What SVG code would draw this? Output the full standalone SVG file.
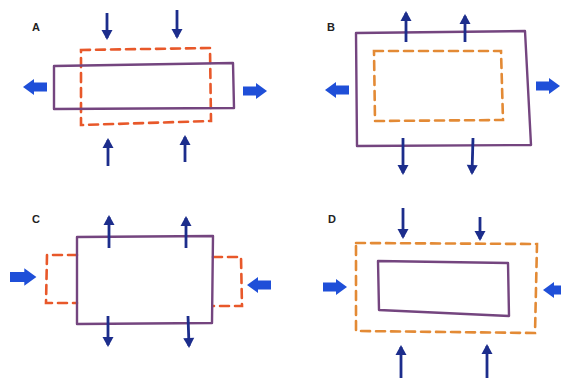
<svg xmlns="http://www.w3.org/2000/svg" width="561" height="378" viewBox="0 0 561 378">
  <style>
    .label { font-family: "Liberation Sans", Arial, sans-serif; font-size: 11px; font-weight: bold; fill: #222; }
    .body { fill: none; stroke: #74457f; stroke-width: 2.4; stroke-linejoin: round; }
    .outline { fill: none; stroke: #e8582a; stroke-width: 2.6; stroke-dasharray: 9 6; stroke-linecap: round; }
    .outline.amber { stroke: #e38a35; }
    .force { stroke: #1c2d8c; stroke-width: 2.8; fill: none; marker-end: url(#head); }
    .push { fill: #1f4fd8; }
  </style>
  <defs>
    <marker id="head" markerUnits="userSpaceOnUse" markerWidth="12" markerHeight="12" viewBox="0 -6 10 12" refX="8" refY="0" orient="auto">
      <path d="M0,-5.5 L10,0 L0,5.5 Z" fill="#1c2d8c"/>
    </marker>
    <!-- block arrow pointing right, tip at x=24 -->
    <path id="fat" d="M0,-4.5 L13,-4.5 L13,-8 L24,0 L13,8 L13,4.5 L0,4.5 Z"/>
  </defs>
  <rect width="561" height="378" fill="#fff"/>

  <!-- panel A: stretched sideways, squeezed vertically -->
  <g id="panel-a">
    <text class="label" x="32" y="31">A</text>
    <path class="outline" d="M81,50 L210,48 L211,121 L81,125 Z"/>
    <path class="body" d="M54,66 L233,63 L234,108 L54,109 Z"/>
  </g>

  <!-- panel B: expanded in every direction -->
  <g id="panel-b">
    <text class="label" x="327" y="31">B</text>
    <path class="outline amber" d="M374,51 L501,51 L503,120 L375,121 Z"/>
    <path class="body" d="M356,33 L525,31 L531,145 L357,146 Z"/>
  </g>

  <!-- panel C: squeezed sideways, stretched vertically -->
  <g id="panel-c">
    <text class="label" x="32" y="223">C</text>
    <path class="outline" d="M77,255 L47,255 L46,303 L77,303"/>
    <path class="outline" d="M213,257 L241,257 L242,306 L213,306"/>
    <path class="body" d="M77,237 L213,236 L212,323 L77,324 Z"/>
  </g>

  <!-- panel D: compressed from every side -->
  <g id="panel-d">
    <text class="label" x="328" y="223">D</text>
    <path class="outline amber" d="M356,243 L537,244 L535,333 L356,331 Z"/>
    <path class="body" d="M378,261 L508,263 L509,316 L379,310 Z"/>
  </g>

  <g id="connectors">
    <!-- A -->
    <line class="force" x1="107" y1="13" x2="107" y2="38"/>
    <line class="force" x1="177" y1="10" x2="177" y2="37"/>
    <line class="force" x1="108" y1="166" x2="108" y2="140"/>
    <line class="force" x1="185" y1="162" x2="185" y2="137"/>
    <use href="#fat" class="push" transform="translate(47,87) scale(-1,1)"/>
    <use href="#fat" class="push" transform="translate(243,91)"/>
    <!-- B -->
    <line class="force" x1="406" y1="42" x2="406" y2="13"/>
    <line class="force" x1="465" y1="42" x2="465" y2="16"/>
    <line class="force" x1="403" y1="138" x2="403" y2="173"/>
    <line class="force" x1="473" y1="138" x2="472" y2="173"/>
    <use href="#fat" class="push" transform="translate(349,90) scale(-1,1)"/>
    <use href="#fat" class="push" transform="translate(536,86)"/>
    <!-- C -->
    <line class="force" x1="109" y1="248" x2="109" y2="217"/>
    <line class="force" x1="186" y1="248" x2="186" y2="218"/>
    <line class="force" x1="108" y1="316" x2="108" y2="345"/>
    <line class="force" x1="188" y1="316" x2="189" y2="346"/>
    <use href="#fat" class="push" transform="translate(10,277) scale(1.1,1.1)"/>
    <use href="#fat" class="push" transform="translate(271,285) scale(-1,1)"/>
    <!-- D -->
    <line class="force" x1="403" y1="208" x2="403" y2="237"/>
    <line class="force" x1="480" y1="217" x2="480" y2="239"/>
    <line class="force" x1="401" y1="378" x2="401" y2="347"/>
    <line class="force" x1="487" y1="378" x2="487" y2="346"/>
    <use href="#fat" class="push" transform="translate(323,287)"/>
    <use href="#fat" class="push" transform="translate(567,290) scale(-1,1)"/>
  </g>
</svg>
